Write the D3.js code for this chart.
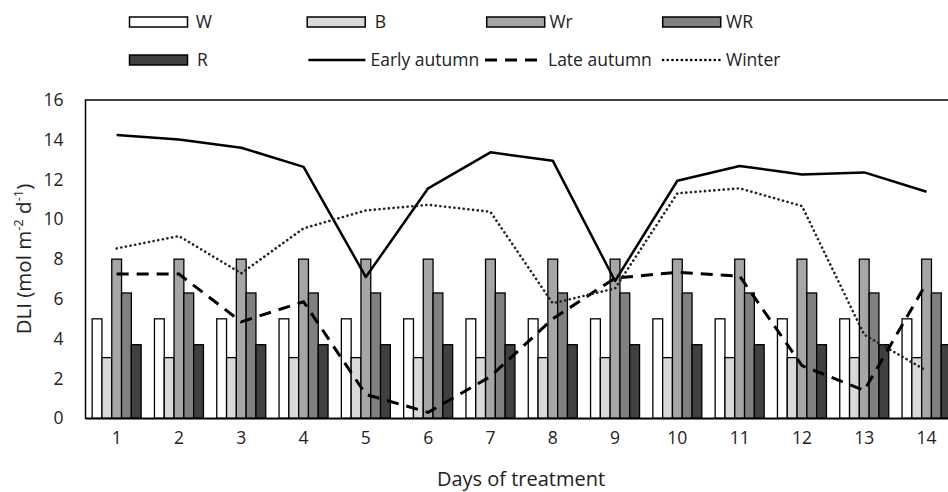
<!DOCTYPE html>
<html><head><meta charset="utf-8">
<script src="https://cdn.jsdelivr.net/npm/d3@7"></script>
<style>body{margin:0;background:#fff}svg{display:block}text{font-family:"Open Sans",sans-serif;fill:#222}</style>
</head><body><svg id="c" width="948" height="492"></svg>
<script>
const days = ["1","2","3","4","5","6","7","8","9","10","11","12","13","14"];
const barSeries = ["W","B","Wr","WR","R"];
const barValues = [5.0, 3.05, 8.0, 6.3, 3.7];
const barColors = ["#ffffff","#d9d9d9","#a6a6a6","#808080","#404040"];
const earlyAutumn = [14.24,14.02,13.6,12.64,7.1,11.56,13.37,12.95,6.9,11.94,12.68,12.26,12.36,11.39];
const lateAutumn  = [7.25,7.25,4.85,5.86,1.2,0.3,2.1,5.0,7.05,7.34,7.15,2.65,1.4,6.8];
const winter      = [8.54,9.16,7.29,9.55,10.45,10.73,10.38,5.78,6.53,11.31,11.56,10.67,4.2,2.39];
const yTicks = [0,2,4,6,8,10,12,14,16];
const lineSeries = ["Early autumn","Late autumn","Winter"];

const svg = d3.select("#c");
const L = 85.5, R = 957.7, T = 100, B = 418.3;
const x = d3.scaleBand().domain(days).range([L, R]).padding(0);
const xs = d3.scaleBand().domain(barSeries).range([0, 49]);
const off = (x.bandwidth() - 49) / 2;
const y = d3.scaleLinear().domain([0, 16]).range([B, T]);

// bars
const g = svg.append("g");
days.forEach(d => {
  barSeries.forEach((s, i) => {
    g.append("rect")
      .attr("x", x(d) + off + xs(s))
      .attr("y", y(barValues[i]))
      .attr("width", xs.bandwidth())
      .attr("height", y(0) - y(barValues[i]))
      .attr("fill", barColors[i])
      .attr("stroke", "#000").attr("stroke-width", 1.3);
  });
});

// frame
svg.append("rect").attr("x", L).attr("y", T).attr("width", R - L).attr("height", B - T)
  .attr("fill", "none").attr("stroke", "#000").attr("stroke-width", 1.5);

// lines
const line = d3.line().x((v, i) => x(days[i]) + x.bandwidth() / 2).y(v => y(v));
svg.append("path").datum(earlyAutumn).attr("d", line).attr("fill", "none")
  .attr("stroke", "#000").attr("stroke-width", 2.5).attr("stroke-linejoin", "round");
svg.append("path").datum(lateAutumn).attr("d", line).attr("fill", "none")
  .attr("stroke", "#000").attr("stroke-width", 3).attr("stroke-dasharray", "12,8");
svg.append("path").datum(winter).attr("d", line).attr("fill", "none")
  .attr("stroke", "#222").attr("stroke-width", 2.6).attr("stroke-linecap", "round")
  .attr("stroke-dasharray", "0.1,4.6");

// axes
const yAxis = d3.axisLeft(y).tickValues(yTicks).tickSize(0).tickPadding(22);
const ya = svg.append("g").attr("transform", `translate(${L},0)`).call(yAxis);
ya.select(".domain").remove();
ya.selectAll("text").style("font-size", "17.5px").style("font-family", "Open Sans, sans-serif").attr("fill", "#222");

const xAxis = d3.axisBottom(x).tickSize(0).tickPadding(13);
const xa = svg.append("g").attr("transform", `translate(0,${B})`).call(xAxis);
xa.select(".domain").attr("stroke", "#000").attr("stroke-width", 1.5);
xa.selectAll("text").style("font-size", "17.5px").style("font-family", "Open Sans, sans-serif").attr("fill", "#222");

svg.append("text").attr("x", 521).attr("y", 485.5).attr("text-anchor", "middle")
  .style("font-size", "20px").text("Days of treatment");

const yt = svg.append("text").attr("transform", "translate(31,259) rotate(-90)").attr("text-anchor", "middle")
  .style("font-size", "20.5px");
yt.append("tspan").text("DLI (mol m");
yt.append("tspan").attr("dy", -8).style("font-size", "13px").text("-2");
yt.append("tspan").attr("dy", 8).text(" d");
yt.append("tspan").attr("dy", -8).style("font-size", "13px").text("-1");
yt.append("tspan").attr("dy", 8).text(")");

// legend
const legBars = [
  {k:0, x:129.5, y:17, tx:195.8},
  {k:1, x:307.2, y:17, tx:374.7},
  {k:2, x:486.7, y:17, tx:549.4},
  {k:3, x:662.7, y:17, tx:726},
  {k:4, x:129.5, y:55, tx:197}
];
legBars.forEach(o => {
  svg.append("rect").attr("x", o.x).attr("y", o.y).attr("width", 58).attr("height", 10)
    .attr("fill", barColors[o.k]).attr("stroke", "#000").attr("stroke-width", 1.5);
  svg.append("text").attr("x", o.tx).attr("y", o.y + 11).style("font-size", "17.5px").text(barSeries[o.k]);
});

const lineLeg = [
  {x:308.4, tx:370.5, dash:null, w:2.5, cap:"butt"},
  {x:485, tx:548, dash:"12,8", w:3, cap:"butt"},
  {x:663, tx:726, dash:"0.1,4.6", w:2.6, cap:"round"}
];
lineLeg.forEach((o, i) => {
  const p = svg.append("line").attr("x1", o.x).attr("x2", o.x + 57).attr("y1", 60).attr("y2", 60)
    .attr("stroke", "#000").attr("stroke-width", o.w).attr("stroke-linecap", o.cap);
  if (o.dash) p.attr("stroke-dasharray", o.dash);
  svg.append("text").attr("x", o.tx).attr("y", 66).style("font-size", "17.5px").text(lineSeries[i]);
});
</script></body></html>
